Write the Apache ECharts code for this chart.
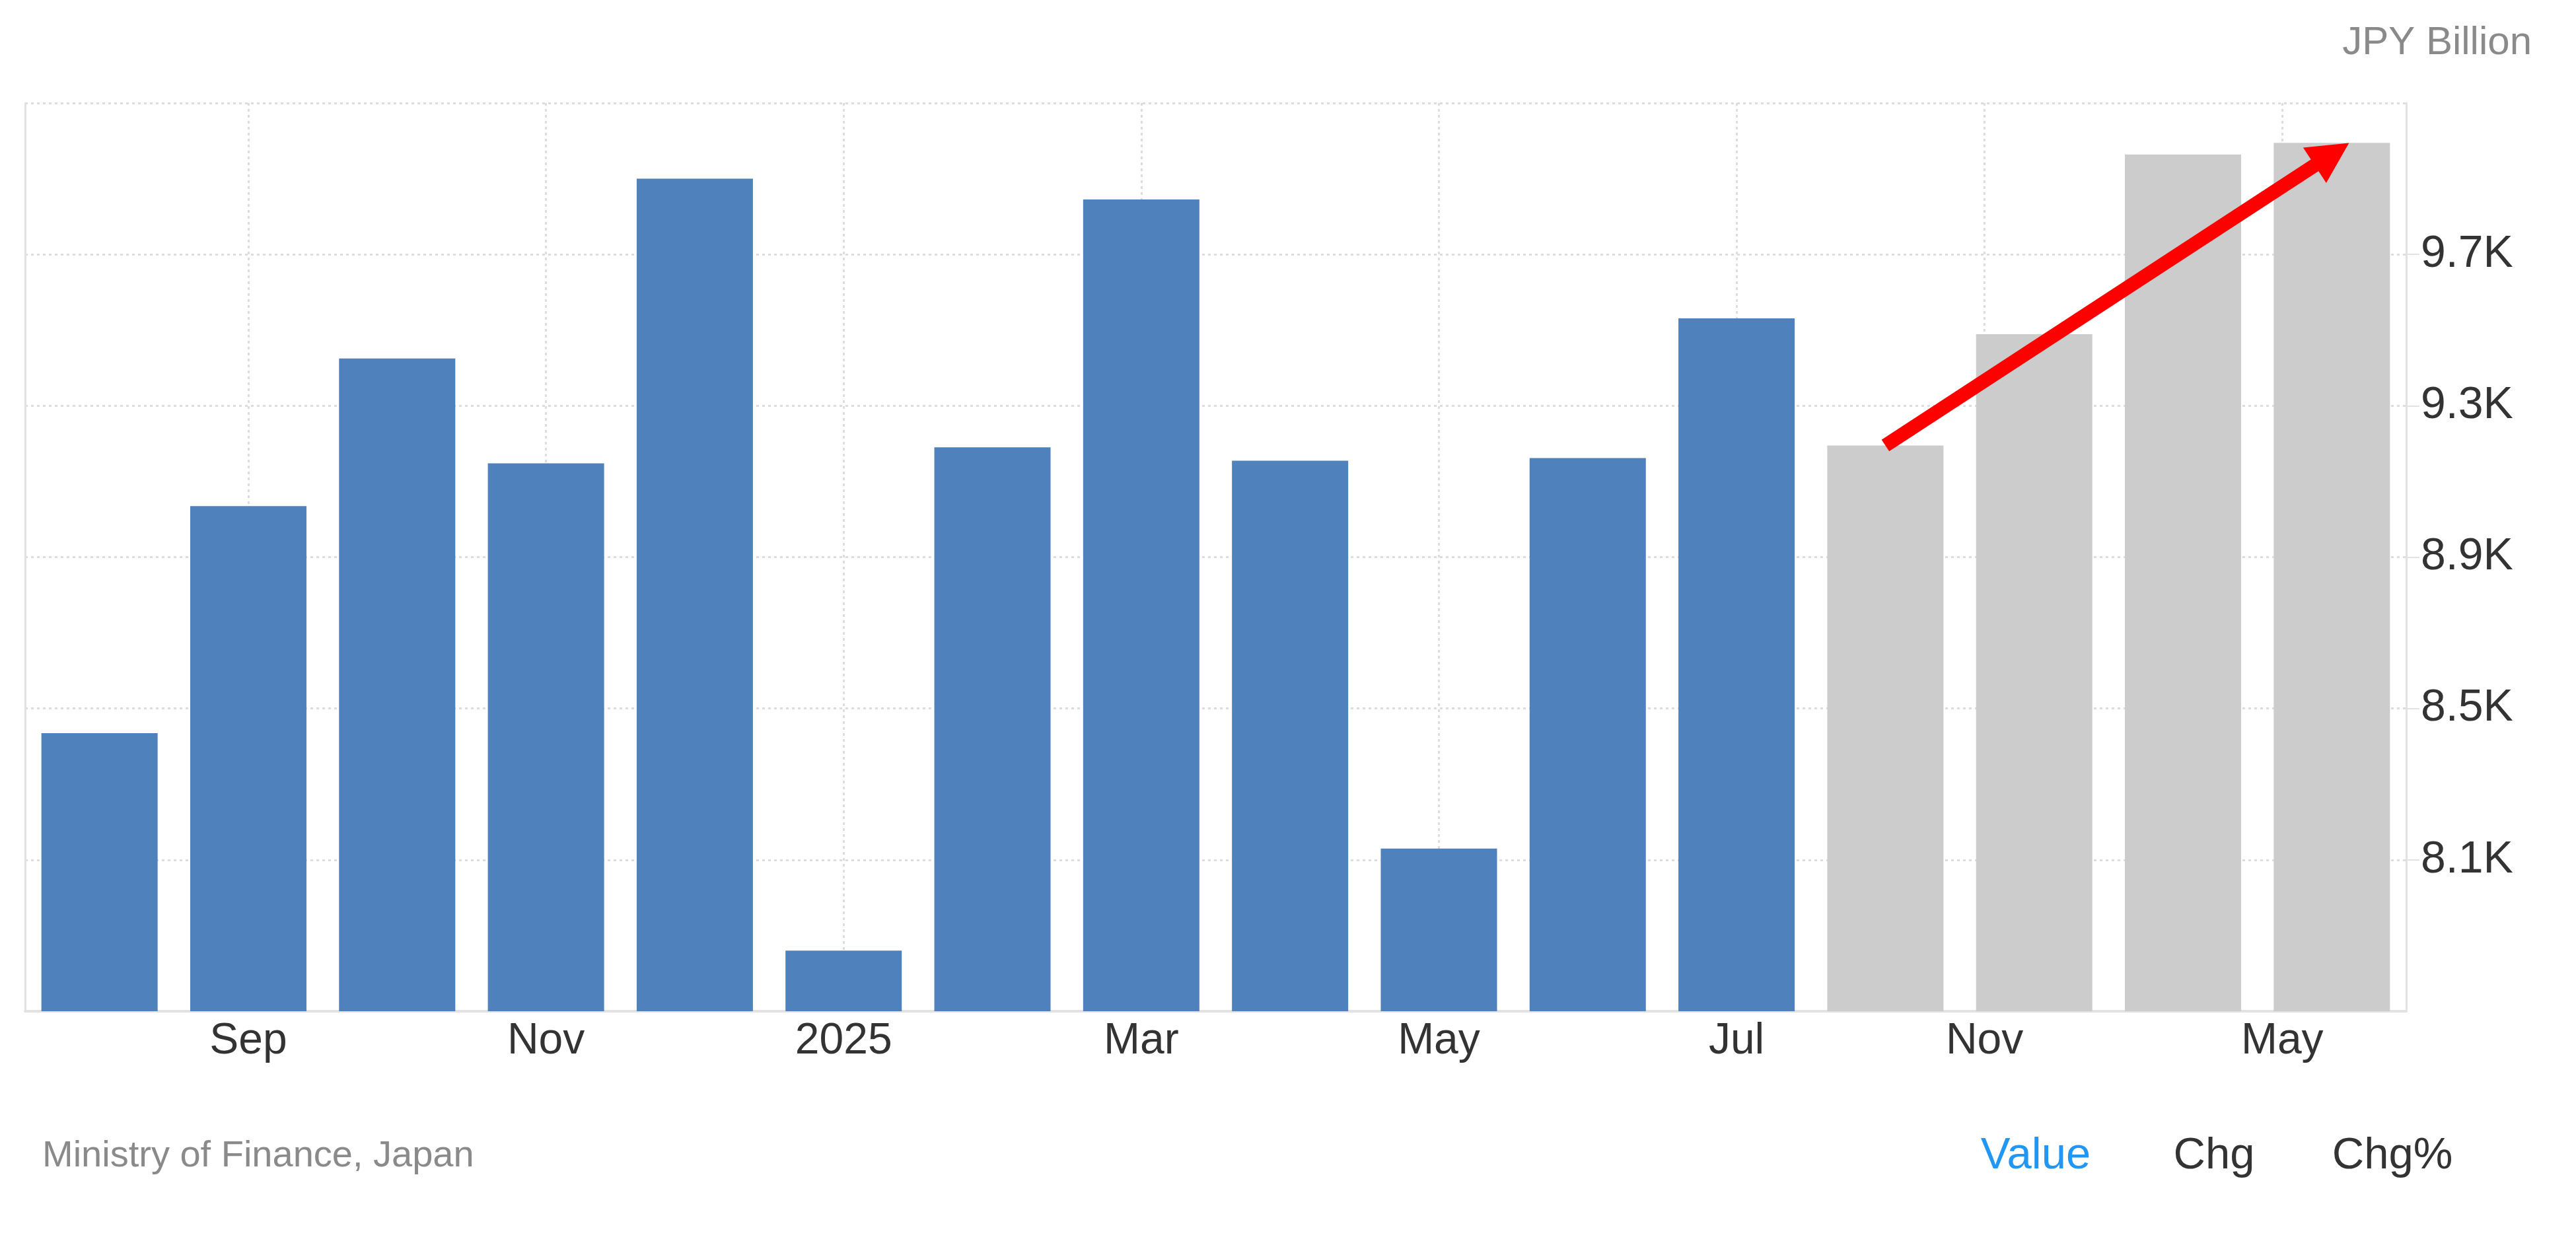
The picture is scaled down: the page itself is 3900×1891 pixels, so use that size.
<!DOCTYPE html>
<html>
<head>
<meta charset="utf-8">
<script src="https://cdn.jsdelivr.net/npm/echarts@6/dist/echarts.min.js"></script>
<style>
  html, body { margin: 0; padding: 0; background: #ffffff; }
  #chart { width: 3900px; height: 1891px; }
</style>
</head>
<body>
<div id="chart"></div>
<script>
// ---- data (JPY Billion) ----
const periods = ['2024-08','2024-09','2024-10','2024-11','2024-12','2025-01','2025-02','2025-03','2025-04','2025-05','2025-06','2025-07','2025-09','2025-12','2026-03','2026-06'];
const actualValues = [8435, 9035, 9425, 9148, 9900, 7860, 9190, 9845, 9155, 8130, 9162, 9531];
const forecastValues = [9195, 9489, 9964, 9995];
const tickMonths = ['2024-09','2024-11','2025-01','2025-03','2025-05','2025-07','2025-11','2026-05'];
const tickLabels = ['Sep','Nov','2025','Mar','May','Jul','Nov','May'];
const yMin = 7700, yMax = 10100, yStep = 400;

// ---- helpers ----
const FONT = '"Liberation Sans", Arial, sans-serif';
const monthNum = s => (+s.slice(0, 4)) * 12 + (+s.slice(5, 7) - 1);
const periodNums = periods.map(monthNum);
function monthToPos(m) {
  const t = monthNum(m);
  for (let i = 0; i < periodNums.length - 1; i++) {
    if (t >= periodNums[i] && t <= periodNums[i + 1]) {
      return i + (t - periodNums[i]) / (periodNums[i + 1] - periodNums[i]);
    }
  }
  return periodNums.length - 1;
}
const tickPos = tickMonths.map(monthToPos);
function labelFor(v) {
  let best = 0, bd = Infinity;
  tickPos.forEach((p, i) => { const d = Math.abs(p - v); if (d < bd) { bd = d; best = i; } });
  return bd < 0.01 ? tickLabels[best] : '';
}

const actualData = actualValues.map((v, i) => [i, v]);
const forecastData = forecastValues.map((v, i) => [actualValues.length + i, v]);
const lastIdx = periods.length - 1;
const firstFc = actualValues.length;

const chart = echarts.init(document.getElementById('chart'), null, { renderer: 'canvas' });
const gridLine = { show: true, lineStyle: { type: [4, 5], color: '#dddddd', width: 3 } };

chart.setOption({
  animation: false,
  backgroundColor: '#ffffff',
  grid: { left: 38, right: 257, top: 156, bottom: 360, containLabel: false, outerBoundsMode: 'none' },
  xAxis: {
    type: 'value',
    min: -0.5,
    max: periods.length - 0.5,
    axisLine: { show: true, onZero: false, lineStyle: { color: '#e2e2e2', width: 4 } },
    axisTick: { show: false, customValues: tickPos },
    axisLabel: {
      customValues: tickPos,
      formatter: v => labelFor(v),
      fontSize: 66, fontFamily: FONT, color: '#333333', margin: 13
    },
    splitLine: gridLine
  },
  yAxis: [
    {
      type: 'value', position: 'right',
      min: yMin, max: yMax, interval: yStep,
      axisLine: { show: true, onZero: false, lineStyle: { color: '#e2e2e2', width: 3 } },
      axisTick: { show: true, length: 20, lineStyle: { color: '#e2e2e2', width: 2 } },
      axisLabel: {
        showMinLabel: false, showMaxLabel: false,
        formatter: v => (v / 1000).toFixed(1) + 'K',
        fontSize: 68, fontFamily: FONT, color: '#333333', margin: 22,
        padding: [0, 0, 26, 0]
      },
      splitLine: gridLine
    },
    {
      type: 'value', position: 'left',
      min: yMin, max: yMax, interval: yStep,
      axisLine: { show: true, onZero: false, lineStyle: { color: '#e2e2e2', width: 3 } },
      axisTick: { show: false }, axisLabel: { show: false }, splitLine: { show: false }
    }
  ],
  series: [
    {
      name: 'Actual', type: 'bar', yAxisIndex: 0,
      data: actualData, barWidth: 176, barGap: '-100%',
      itemStyle: { color: '#4f81bd' }
    },
    {
      name: 'Forecast', type: 'bar', yAxisIndex: 0,
      data: forecastData, barWidth: 176, barGap: '-100%',
      itemStyle: { color: '#cccccc' },
      markLine: {
        silent: true, animation: false,
        symbol: ['none', 'triangle'], symbolSize: [64, 62],
        label: { show: false },
        lineStyle: { color: '#ff0000', width: 21, type: 'solid', opacity: 1 },
        emphasis: { disabled: true },
        data: [[
          { coord: [firstFc, forecastValues[0]] },
          { coord: [lastIdx, forecastValues[forecastValues.length - 1] - 30] }
        ]]
      }
    }
  ],
  graphic: [
    { type: 'text', x: 3833, y: 65, style: { text: 'JPY Billion', font: '60px ' + FONT, fill: '#8a8a8a', align: 'right', verticalAlign: 'middle' } },
    { type: 'text', x: 64, y: 1751, style: { text: 'Ministry of Finance, Japan', font: '56px ' + FONT, fill: '#8a8a8a', align: 'left', verticalAlign: 'middle' } },
    { type: 'text', x: 3082, y: 1751, style: { text: 'Value', font: '67px ' + FONT, fill: '#2196f3', align: 'center', verticalAlign: 'middle' } },
    { type: 'text', x: 3352, y: 1751, style: { text: 'Chg', font: '67px ' + FONT, fill: '#333333', align: 'center', verticalAlign: 'middle' } },
    { type: 'text', x: 3622, y: 1751, style: { text: 'Chg%', font: '67px ' + FONT, fill: '#333333', align: 'center', verticalAlign: 'middle' } }
  ]
});
</script>
</body>
</html>
